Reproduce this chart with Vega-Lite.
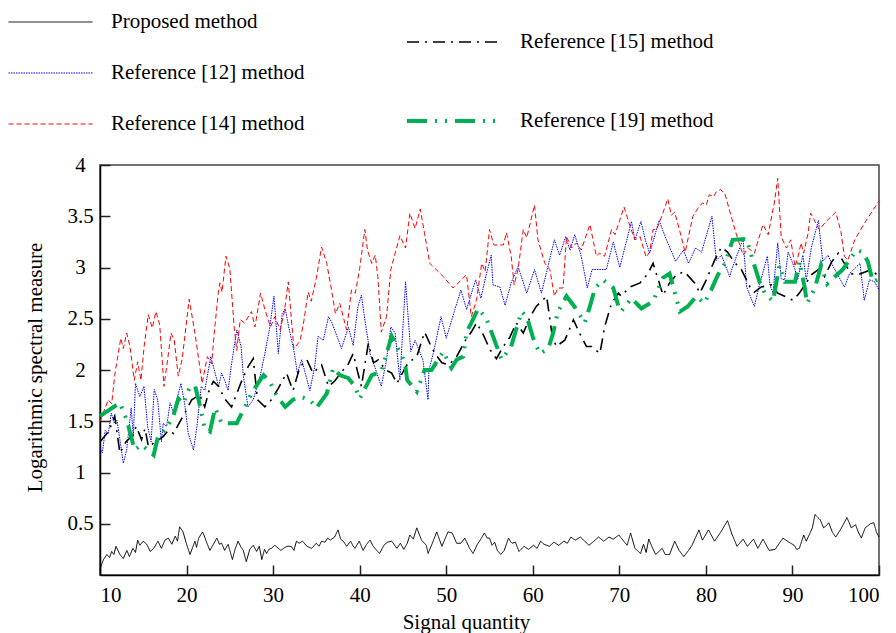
{
"$schema":"https://vega.github.io/schema/vega-lite/v6.json",
"width":779,"height":410,
"autosize":{"type":"none"},
"padding":{"left":100,"top":165,"right":17,"bottom":58},
"background":"white",
"config":{
 "font":"Liberation Serif",
 "view":{"stroke":"#444444","strokeWidth":1.5},
 "axis":{"grid":false,"domainColor":"#000000","domainWidth":1.5,"tickColor":"#222222","tickWidth":1.5,"tickSize":-10,"labelFont":"Liberation Serif","labelFontSize":21,"labelColor":"#000000","titleFont":"Liberation Serif","titleFontSize":21,"titleFontWeight":"normal","titleColor":"#000000"},
 "legend":{"labelFont":"Liberation Serif","labelFontSize":21,"labelColor":"#000000","labelLimit":0,"symbolType":"stroke","padding":0,"title":null}
},
"datasets":{
"left":[
{"method":"Proposed method","x":10.0,"y":0.06},{"method":"Proposed method","x":10.4,"y":0.15},{"method":"Proposed method","x":10.8,"y":0.2},{"method":"Proposed method","x":11.1,"y":0.17},{"method":"Proposed method","x":11.35,"y":0.23},{"method":"Proposed method","x":11.6,"y":0.2},{"method":"Proposed method","x":11.85,"y":0.28},{"method":"Proposed method","x":12.3,"y":0.2},{"method":"Proposed method","x":12.7,"y":0.16},{"method":"Proposed method","x":13.1,"y":0.24},{"method":"Proposed method","x":13.4,"y":0.18},{"method":"Proposed method","x":13.8,"y":0.26},{"method":"Proposed method","x":14.1,"y":0.22},{"method":"Proposed method","x":14.35,"y":0.34},{"method":"Proposed method","x":14.6,"y":0.29},{"method":"Proposed method","x":15.0,"y":0.33},{"method":"Proposed method","x":15.4,"y":0.3},{"method":"Proposed method","x":15.8,"y":0.23},{"method":"Proposed method","x":16.2,"y":0.26},{"method":"Proposed method","x":16.7,"y":0.33},{"method":"Proposed method","x":17.1,"y":0.26},{"method":"Proposed method","x":17.5,"y":0.34},{"method":"Proposed method","x":17.9,"y":0.36},{"method":"Proposed method","x":18.3,"y":0.3},{"method":"Proposed method","x":18.7,"y":0.38},{"method":"Proposed method","x":18.95,"y":0.33},{"method":"Proposed method","x":19.2,"y":0.47},{"method":"Proposed method","x":19.6,"y":0.42},{"method":"Proposed method","x":20.0,"y":0.3},{"method":"Proposed method","x":20.4,"y":0.2},{"method":"Proposed method","x":20.97,"y":0.33},{"method":"Proposed method","x":21.15,"y":0.27},{"method":"Proposed method","x":21.4,"y":0.36},{"method":"Proposed method","x":21.85,"y":0.42},{"method":"Proposed method","x":22.1,"y":0.37},{"method":"Proposed method","x":22.4,"y":0.3},{"method":"Proposed method","x":22.7,"y":0.24},{"method":"Proposed method","x":23.1,"y":0.3},{"method":"Proposed method","x":23.5,"y":0.36},{"method":"Proposed method","x":23.8,"y":0.3},{"method":"Proposed method","x":24.05,"y":0.31},{"method":"Proposed method","x":24.4,"y":0.24},{"method":"Proposed method","x":24.8,"y":0.3},{"method":"Proposed method","x":25.3,"y":0.15},{"method":"Proposed method","x":25.6,"y":0.25},{"method":"Proposed method","x":25.95,"y":0.33},{"method":"Proposed method","x":26.3,"y":0.27},{"method":"Proposed method","x":26.55,"y":0.24},{"method":"Proposed method","x":26.9,"y":0.13},{"method":"Proposed method","x":27.3,"y":0.25},{"method":"Proposed method","x":27.7,"y":0.29},{"method":"Proposed method","x":28.1,"y":0.23},{"method":"Proposed method","x":28.4,"y":0.28},{"method":"Proposed method","x":28.7,"y":0.15},{"method":"Proposed method","x":29.0,"y":0.25},{"method":"Proposed method","x":29.25,"y":0.21},{"method":"Proposed method","x":29.5,"y":0.25},{"method":"Proposed method","x":29.8,"y":0.26},{"method":"Proposed method","x":30.2,"y":0.29},{"method":"Proposed method","x":30.6,"y":0.26},{"method":"Proposed method","x":30.9,"y":0.24},{"method":"Proposed method","x":31.2,"y":0.26},{"method":"Proposed method","x":31.6,"y":0.28},{"method":"Proposed method","x":32.1,"y":0.28},{"method":"Proposed method","x":32.4,"y":0.24},{"method":"Proposed method","x":32.7,"y":0.33},{"method":"Proposed method","x":33.0,"y":0.31},{"method":"Proposed method","x":33.4,"y":0.33},{"method":"Proposed method","x":33.9,"y":0.28},{"method":"Proposed method","x":34.45,"y":0.26},{"method":"Proposed method","x":35.0,"y":0.31},{"method":"Proposed method","x":35.3,"y":0.28},{"method":"Proposed method","x":35.6,"y":0.33},{"method":"Proposed method","x":36.0,"y":0.32},{"method":"Proposed method","x":36.3,"y":0.36},{"method":"Proposed method","x":36.6,"y":0.34},{"method":"Proposed method","x":37.1,"y":0.37},{"method":"Proposed method","x":37.5,"y":0.44},{"method":"Proposed method","x":37.8,"y":0.35},{"method":"Proposed method","x":38.1,"y":0.33},{"method":"Proposed method","x":38.5,"y":0.28},{"method":"Proposed method","x":38.95,"y":0.33},{"method":"Proposed method","x":39.2,"y":0.29},{"method":"Proposed method","x":39.45,"y":0.26},{"method":"Proposed method","x":39.95,"y":0.33},{"method":"Proposed method","x":40.4,"y":0.24},{"method":"Proposed method","x":40.8,"y":0.3},{"method":"Proposed method","x":41.2,"y":0.34},{"method":"Proposed method","x":41.5,"y":0.29},{"method":"Proposed method","x":41.75,"y":0.26},{"method":"Proposed method","x":42.3,"y":0.21},{"method":"Proposed method","x":42.8,"y":0.29},{"method":"Proposed method","x":43.2,"y":0.32},{"method":"Proposed method","x":43.7,"y":0.33},{"method":"Proposed method","x":44.3,"y":0.26},{"method":"Proposed method","x":44.7,"y":0.31},{"method":"Proposed method","x":45.1,"y":0.25},{"method":"Proposed method","x":45.5,"y":0.31},{"method":"Proposed method","x":45.8,"y":0.39},{"method":"Proposed method","x":46.2,"y":0.35},{"method":"Proposed method","x":46.6,"y":0.46},{"method":"Proposed method","x":47.15,"y":0.34},{"method":"Proposed method","x":47.7,"y":0.29},{"method":"Proposed method","x":47.9,"y":0.21},{"method":"Proposed method","x":48.4,"y":0.31},{"method":"Proposed method","x":48.9,"y":0.42},{"method":"Proposed method","x":49.5,"y":0.28},{"method":"Proposed method","x":50.2,"y":0.42},{"method":"Proposed method","x":50.7,"y":0.41},{"method":"Proposed method","x":51.2,"y":0.31},{"method":"Proposed method","x":51.7,"y":0.31},{"method":"Proposed method","x":52.15,"y":0.36},{"method":"Proposed method","x":52.7,"y":0.26},{"method":"Proposed method","x":53.1,"y":0.21},{"method":"Proposed method","x":53.6,"y":0.3},{"method":"Proposed method","x":54.0,"y":0.35},{"method":"Proposed method","x":54.4,"y":0.41},{"method":"Proposed method","x":54.74,"y":0.36},{"method":"Proposed method","x":55.0,"y":0.36},{"method":"Proposed method","x":55.3,"y":0.29},{"method":"Proposed method","x":55.6,"y":0.32},{"method":"Proposed method","x":55.9,"y":0.24},{"method":"Proposed method","x":56.3,"y":0.2},{"method":"Proposed method","x":56.7,"y":0.24},{"method":"Proposed method","x":57.2,"y":0.36},{"method":"Proposed method","x":57.4,"y":0.33},{"method":"Proposed method","x":57.6,"y":0.31},{"method":"Proposed method","x":58.0,"y":0.32},{"method":"Proposed method","x":58.4,"y":0.23},{"method":"Proposed method","x":59.0,"y":0.28},{"method":"Proposed method","x":59.5,"y":0.25},{"method":"Proposed method","x":60.1,"y":0.29},{"method":"Proposed method","x":60.5,"y":0.26},{"method":"Proposed method","x":60.9,"y":0.33},{"method":"Proposed method","x":61.3,"y":0.3},{"method":"Proposed method","x":61.9,"y":0.28},{"method":"Proposed method","x":62.45,"y":0.32},{"method":"Proposed method","x":63.0,"y":0.29},{"method":"Proposed method","x":63.6,"y":0.33},{"method":"Proposed method","x":64.0,"y":0.31},{"method":"Proposed method","x":64.4,"y":0.37},{"method":"Proposed method","x":64.9,"y":0.34},{"method":"Proposed method","x":65.5,"y":0.37},{"method":"Proposed method","x":66.0,"y":0.33},{"method":"Proposed method","x":66.5,"y":0.29},{"method":"Proposed method","x":67.06,"y":0.33},{"method":"Proposed method","x":67.6,"y":0.37},{"method":"Proposed method","x":68.2,"y":0.33},{"method":"Proposed method","x":68.8,"y":0.37},{"method":"Proposed method","x":69.3,"y":0.35},{"method":"Proposed method","x":69.95,"y":0.39},{"method":"Proposed method","x":70.5,"y":0.33},{"method":"Proposed method","x":70.9,"y":0.29},{"method":"Proposed method","x":71.3,"y":0.41},{"method":"Proposed method","x":71.8,"y":0.26},{"method":"Proposed method","x":72.2,"y":0.23},{"method":"Proposed method","x":72.45,"y":0.21},{"method":"Proposed method","x":72.8,"y":0.3},{"method":"Proposed method","x":73.1,"y":0.22},{"method":"Proposed method","x":73.4,"y":0.35},{"method":"Proposed method","x":73.8,"y":0.27},{"method":"Proposed method","x":74.2,"y":0.2},{"method":"Proposed method","x":74.95,"y":0.26},{"method":"Proposed method","x":75.3,"y":0.2},{"method":"Proposed method","x":75.8,"y":0.2},{"method":"Proposed method","x":76.4,"y":0.33},{"method":"Proposed method","x":76.9,"y":0.24},{"method":"Proposed method","x":77.45,"y":0.18},{"method":"Proposed method","x":78.0,"y":0.24},{"method":"Proposed method","x":78.4,"y":0.29},{"method":"Proposed method","x":79.2,"y":0.44},{"method":"Proposed method","x":79.6,"y":0.34},{"method":"Proposed method","x":80.3,"y":0.44},{"method":"Proposed method","x":81.0,"y":0.33},{"method":"Proposed method","x":81.8,"y":0.43},{"method":"Proposed method","x":82.5,"y":0.53},{"method":"Proposed method","x":83.0,"y":0.4},{"method":"Proposed method","x":83.6,"y":0.28},{"method":"Proposed method","x":84.3,"y":0.35},{"method":"Proposed method","x":84.8,"y":0.28},{"method":"Proposed method","x":85.5,"y":0.35},{"method":"Proposed method","x":86.0,"y":0.26},{"method":"Proposed method","x":86.6,"y":0.35},{"method":"Proposed method","x":87.3,"y":0.24},{"method":"Proposed method","x":88.0,"y":0.25},{"method":"Proposed method","x":88.9,"y":0.36},{"method":"Proposed method","x":89.6,"y":0.32},{"method":"Proposed method","x":90.2,"y":0.29},{"method":"Proposed method","x":90.5,"y":0.25},{"method":"Proposed method","x":90.8,"y":0.26},{"method":"Proposed method","x":91.3,"y":0.39},{"method":"Proposed method","x":91.6,"y":0.33},{"method":"Proposed method","x":92.3,"y":0.46},{"method":"Proposed method","x":92.6,"y":0.59},{"method":"Proposed method","x":93.2,"y":0.54},{"method":"Proposed method","x":93.6,"y":0.46},{"method":"Proposed method","x":93.9,"y":0.48},{"method":"Proposed method","x":94.2,"y":0.51},{"method":"Proposed method","x":94.6,"y":0.42},{"method":"Proposed method","x":95.0,"y":0.37},{"method":"Proposed method","x":95.6,"y":0.45},{"method":"Proposed method","x":96.3,"y":0.56},{"method":"Proposed method","x":96.8,"y":0.46},{"method":"Proposed method","x":97.3,"y":0.49},{"method":"Proposed method","x":97.6,"y":0.42},{"method":"Proposed method","x":97.96,"y":0.36},{"method":"Proposed method","x":98.4,"y":0.46},{"method":"Proposed method","x":99.0,"y":0.5},{"method":"Proposed method","x":99.4,"y":0.51},{"method":"Proposed method","x":99.7,"y":0.42},{"method":"Proposed method","x":100.0,"y":0.37},
{"method":"Reference [12] method","x":10.0,"y":1.24},{"method":"Reference [12] method","x":10.27,"y":1.19},{"method":"Reference [12] method","x":10.6,"y":1.41},{"method":"Reference [12] method","x":10.96,"y":1.38},{"method":"Reference [12] method","x":11.3,"y":1.58},{"method":"Reference [12] method","x":11.65,"y":1.48},{"method":"Reference [12] method","x":11.96,"y":1.51},{"method":"Reference [12] method","x":12.3,"y":1.32},{"method":"Reference [12] method","x":12.7,"y":1.09},{"method":"Reference [12] method","x":13.08,"y":1.22},{"method":"Reference [12] method","x":13.6,"y":1.63},{"method":"Reference [12] method","x":13.85,"y":1.35},{"method":"Reference [12] method","x":14.1,"y":1.87},{"method":"Reference [12] method","x":14.6,"y":1.74},{"method":"Reference [12] method","x":15.08,"y":1.84},{"method":"Reference [12] method","x":15.5,"y":1.45},{"method":"Reference [12] method","x":15.9,"y":1.3},{"method":"Reference [12] method","x":16.27,"y":1.81},{"method":"Reference [12] method","x":16.66,"y":1.71},{"method":"Reference [12] method","x":17.1,"y":1.3},{"method":"Reference [12] method","x":17.3,"y":1.48},{"method":"Reference [12] method","x":17.7,"y":1.45},{"method":"Reference [12] method","x":18.1,"y":1.68},{"method":"Reference [12] method","x":18.5,"y":1.58},{"method":"Reference [12] method","x":19.35,"y":1.87},{"method":"Reference [12] method","x":19.8,"y":1.66},{"method":"Reference [12] method","x":20.2,"y":1.38},{"method":"Reference [12] method","x":20.8,"y":1.22},{"method":"Reference [12] method","x":21.2,"y":1.45},{"method":"Reference [12] method","x":21.7,"y":1.84},{"method":"Reference [12] method","x":22.1,"y":1.8},{"method":"Reference [12] method","x":22.8,"y":2.13},{"method":"Reference [12] method","x":23.3,"y":1.97},{"method":"Reference [12] method","x":23.7,"y":1.84},{"method":"Reference [12] method","x":24.05,"y":1.97},{"method":"Reference [12] method","x":24.4,"y":1.9},{"method":"Reference [12] method","x":24.8,"y":1.8},{"method":"Reference [12] method","x":25.2,"y":2.06},{"method":"Reference [12] method","x":25.8,"y":2.39},{"method":"Reference [12] method","x":26.3,"y":2.23},{"method":"Reference [12] method","x":26.55,"y":1.95},{"method":"Reference [12] method","x":27.1,"y":1.64},{"method":"Reference [12] method","x":27.7,"y":1.71},{"method":"Reference [12] method","x":28.5,"y":1.94},{"method":"Reference [12] method","x":29.05,"y":2.16},{"method":"Reference [12] method","x":29.6,"y":2.41},{"method":"Reference [12] method","x":30.1,"y":2.72},{"method":"Reference [12] method","x":30.6,"y":2.16},{"method":"Reference [12] method","x":31.05,"y":2.55},{"method":"Reference [12] method","x":31.4,"y":2.6},{"method":"Reference [12] method","x":31.8,"y":2.42},{"method":"Reference [12] method","x":32.4,"y":2.19},{"method":"Reference [12] method","x":32.8,"y":1.97},{"method":"Reference [12] method","x":33.3,"y":2.1},{"method":"Reference [12] method","x":34.25,"y":1.8},{"method":"Reference [12] method","x":34.8,"y":2.03},{"method":"Reference [12] method","x":35.2,"y":2.33},{"method":"Reference [12] method","x":35.8,"y":2.29},{"method":"Reference [12] method","x":36.4,"y":2.52},{"method":"Reference [12] method","x":36.8,"y":2.46},{"method":"Reference [12] method","x":37.9,"y":2.21},{"method":"Reference [12] method","x":38.7,"y":2.42},{"method":"Reference [12] method","x":39.25,"y":2.24},{"method":"Reference [12] method","x":39.8,"y":2.62},{"method":"Reference [12] method","x":40.2,"y":2.73},{"method":"Reference [12] method","x":40.6,"y":2.49},{"method":"Reference [12] method","x":41.2,"y":2.16},{"method":"Reference [12] method","x":41.75,"y":2.03},{"method":"Reference [12] method","x":42.5,"y":1.84},{"method":"Reference [12] method","x":43.1,"y":2.1},{"method":"Reference [12] method","x":43.6,"y":2.42},{"method":"Reference [12] method","x":44.1,"y":2.36},{"method":"Reference [12] method","x":44.65,"y":1.9},{"method":"Reference [12] method","x":45.3,"y":2.86},{"method":"Reference [12] method","x":45.9,"y":2.18},{"method":"Reference [12] method","x":46.4,"y":2.29},{"method":"Reference [12] method","x":47.3,"y":2.1},{"method":"Reference [12] method","x":47.9,"y":1.71},{"method":"Reference [12] method","x":48.0,"y":2.0},{"method":"Reference [12] method","x":48.5,"y":2.16},{"method":"Reference [12] method","x":49.4,"y":2.52},{"method":"Reference [12] method","x":50.0,"y":2.31},{"method":"Reference [12] method","x":51.0,"y":2.59},{"method":"Reference [12] method","x":51.7,"y":2.78},{"method":"Reference [12] method","x":52.35,"y":2.59},{"method":"Reference [12] method","x":53.4,"y":2.88},{"method":"Reference [12] method","x":54.0,"y":2.7},{"method":"Reference [12] method","x":54.65,"y":2.94},{"method":"Reference [12] method","x":55.2,"y":3.12},{"method":"Reference [12] method","x":55.4,"y":2.83},{"method":"Reference [12] method","x":56.2,"y":2.81},{"method":"Reference [12] method","x":56.8,"y":2.63},{"method":"Reference [12] method","x":57.5,"y":2.85},{"method":"Reference [12] method","x":58.3,"y":3.01},{"method":"Reference [12] method","x":59.3,"y":2.75},{"method":"Reference [12] method","x":60.2,"y":2.98},{"method":"Reference [12] method","x":61.0,"y":2.75},{"method":"Reference [12] method","x":62.5,"y":3.27},{"method":"Reference [12] method","x":63.1,"y":3.12},{"method":"Reference [12] method","x":63.8,"y":3.3},{"method":"Reference [12] method","x":64.3,"y":3.17},{"method":"Reference [12] method","x":64.85,"y":3.32},{"method":"Reference [12] method","x":65.6,"y":3.11},{"method":"Reference [12] method","x":66.3,"y":2.8},{"method":"Reference [12] method","x":66.85,"y":2.98},{"method":"Reference [12] method","x":68.5,"y":2.98},{"method":"Reference [12] method","x":69.3,"y":3.25},{"method":"Reference [12] method","x":70.05,"y":3.0},{"method":"Reference [12] method","x":71.4,"y":3.45},{"method":"Reference [12] method","x":71.8,"y":3.27},{"method":"Reference [12] method","x":72.5,"y":3.45},{"method":"Reference [12] method","x":73.0,"y":3.27},{"method":"Reference [12] method","x":73.5,"y":3.14},{"method":"Reference [12] method","x":74.6,"y":3.46},{"method":"Reference [12] method","x":75.3,"y":3.3},{"method":"Reference [12] method","x":76.5,"y":3.06},{"method":"Reference [12] method","x":77.4,"y":3.17},{"method":"Reference [12] method","x":78.0,"y":3.04},{"method":"Reference [12] method","x":78.8,"y":3.19},{"method":"Reference [12] method","x":79.5,"y":3.15},{"method":"Reference [12] method","x":80.7,"y":3.5},{"method":"Reference [12] method","x":81.2,"y":3.07},{"method":"Reference [12] method","x":81.8,"y":3.12},{"method":"Reference [12] method","x":82.75,"y":2.91},{"method":"Reference [12] method","x":83.1,"y":3.01},{"method":"Reference [12] method","x":84.3,"y":3.28},{"method":"Reference [12] method","x":84.7,"y":2.81},{"method":"Reference [12] method","x":85.6,"y":2.62},{"method":"Reference [12] method","x":86.1,"y":2.8},{"method":"Reference [12] method","x":87.1,"y":3.11},{"method":"Reference [12] method","x":87.4,"y":2.83},{"method":"Reference [12] method","x":87.75,"y":2.75},{"method":"Reference [12] method","x":88.3,"y":3.24},{"method":"Reference [12] method","x":88.7,"y":2.89},{"method":"Reference [12] method","x":89.1,"y":2.88},{"method":"Reference [12] method","x":89.5,"y":3.15},{"method":"Reference [12] method","x":89.9,"y":3.07},{"method":"Reference [12] method","x":90.3,"y":2.98},{"method":"Reference [12] method","x":90.6,"y":2.88},{"method":"Reference [12] method","x":91.2,"y":3.12},{"method":"Reference [12] method","x":91.6,"y":2.88},{"method":"Reference [12] method","x":92.2,"y":3.2},{"method":"Reference [12] method","x":93.0,"y":3.46},{"method":"Reference [12] method","x":93.5,"y":3.06},{"method":"Reference [12] method","x":94.1,"y":3.12},{"method":"Reference [12] method","x":94.7,"y":3.01},{"method":"Reference [12] method","x":96.0,"y":2.81},{"method":"Reference [12] method","x":96.6,"y":2.94},{"method":"Reference [12] method","x":97.8,"y":3.04},{"method":"Reference [12] method","x":98.3,"y":2.68},{"method":"Reference [12] method","x":98.9,"y":2.88},{"method":"Reference [12] method","x":99.5,"y":2.86},{"method":"Reference [12] method","x":100.0,"y":2.78},
{"method":"Reference [14] method","x":10.0,"y":1.5},{"method":"Reference [14] method","x":10.6,"y":1.63},{"method":"Reference [14] method","x":10.96,"y":1.71},{"method":"Reference [14] method","x":11.35,"y":1.67},{"method":"Reference [14] method","x":11.7,"y":1.95},{"method":"Reference [14] method","x":12.4,"y":2.31},{"method":"Reference [14] method","x":12.7,"y":2.21},{"method":"Reference [14] method","x":13.08,"y":2.36},{"method":"Reference [14] method","x":13.46,"y":2.23},{"method":"Reference [14] method","x":13.96,"y":1.9},{"method":"Reference [14] method","x":14.35,"y":2.08},{"method":"Reference [14] method","x":14.73,"y":1.9},{"method":"Reference [14] method","x":15.1,"y":2.23},{"method":"Reference [14] method","x":15.58,"y":2.54},{"method":"Reference [14] method","x":16.04,"y":2.41},{"method":"Reference [14] method","x":16.46,"y":2.57},{"method":"Reference [14] method","x":16.9,"y":2.44},{"method":"Reference [14] method","x":17.39,"y":1.84},{"method":"Reference [14] method","x":17.81,"y":2.1},{"method":"Reference [14] method","x":18.2,"y":2.36},{"method":"Reference [14] method","x":18.58,"y":2.29},{"method":"Reference [14] method","x":19.04,"y":1.94},{"method":"Reference [14] method","x":19.5,"y":2.11},{"method":"Reference [14] method","x":20.3,"y":2.69},{"method":"Reference [14] method","x":20.97,"y":2.36},{"method":"Reference [14] method","x":21.8,"y":1.87},{"method":"Reference [14] method","x":22.4,"y":2.13},{"method":"Reference [14] method","x":22.9,"y":2.06},{"method":"Reference [14] method","x":23.2,"y":2.36},{"method":"Reference [14] method","x":23.66,"y":2.75},{"method":"Reference [14] method","x":23.85,"y":2.85},{"method":"Reference [14] method","x":24.1,"y":2.76},{"method":"Reference [14] method","x":24.55,"y":3.11},{"method":"Reference [14] method","x":25.0,"y":2.99},{"method":"Reference [14] method","x":25.5,"y":2.42},{"method":"Reference [14] method","x":25.8,"y":2.19},{"method":"Reference [14] method","x":26.2,"y":2.49},{"method":"Reference [14] method","x":26.7,"y":2.46},{"method":"Reference [14] method","x":27.5,"y":2.57},{"method":"Reference [14] method","x":27.9,"y":2.42},{"method":"Reference [14] method","x":28.55,"y":2.75},{"method":"Reference [14] method","x":29.05,"y":2.59},{"method":"Reference [14] method","x":29.7,"y":2.42},{"method":"Reference [14] method","x":30.2,"y":2.52},{"method":"Reference [14] method","x":30.8,"y":2.39},{"method":"Reference [14] method","x":31.3,"y":2.57},{"method":"Reference [14] method","x":31.75,"y":2.86},{"method":"Reference [14] method","x":32.4,"y":2.21},{"method":"Reference [14] method","x":33.1,"y":2.28},{"method":"Reference [14] method","x":33.5,"y":2.45},{"method":"Reference [14] method","x":34.05,"y":2.76},{"method":"Reference [14] method","x":34.4,"y":2.67},{"method":"Reference [14] method","x":35.0,"y":2.9},{"method":"Reference [14] method","x":35.6,"y":3.2},{"method":"Reference [14] method","x":36.2,"y":3.04},{"method":"Reference [14] method","x":36.75,"y":2.78},{"method":"Reference [14] method","x":37.2,"y":2.55},{"method":"Reference [14] method","x":37.7,"y":2.65},{"method":"Reference [14] method","x":38.1,"y":2.52},{"method":"Reference [14] method","x":38.5,"y":2.39},{"method":"Reference [14] method","x":39.05,"y":2.78},{"method":"Reference [14] method","x":39.5,"y":2.75},{"method":"Reference [14] method","x":40.0,"y":2.99},{"method":"Reference [14] method","x":40.6,"y":3.37},{"method":"Reference [14] method","x":40.9,"y":3.17},{"method":"Reference [14] method","x":41.4,"y":3.04},{"method":"Reference [14] method","x":41.8,"y":3.12},{"method":"Reference [14] method","x":42.1,"y":2.91},{"method":"Reference [14] method","x":42.5,"y":2.37},{"method":"Reference [14] method","x":43.1,"y":2.52},{"method":"Reference [14] method","x":43.6,"y":2.98},{"method":"Reference [14] method","x":44.1,"y":3.14},{"method":"Reference [14] method","x":44.65,"y":3.31},{"method":"Reference [14] method","x":45.3,"y":3.19},{"method":"Reference [14] method","x":45.8,"y":3.53},{"method":"Reference [14] method","x":46.4,"y":3.38},{"method":"Reference [14] method","x":47.0,"y":3.57},{"method":"Reference [14] method","x":47.5,"y":3.33},{"method":"Reference [14] method","x":48.1,"y":3.04},{"method":"Reference [14] method","x":49.45,"y":2.93},{"method":"Reference [14] method","x":50.8,"y":2.8},{"method":"Reference [14] method","x":52.35,"y":2.93},{"method":"Reference [14] method","x":52.9,"y":2.52},{"method":"Reference [14] method","x":53.5,"y":2.68},{"method":"Reference [14] method","x":54.1,"y":3.04},{"method":"Reference [14] method","x":54.5,"y":2.96},{"method":"Reference [14] method","x":55.0,"y":3.37},{"method":"Reference [14] method","x":55.5,"y":3.22},{"method":"Reference [14] method","x":56.6,"y":3.22},{"method":"Reference [14] method","x":56.96,"y":3.34},{"method":"Reference [14] method","x":57.5,"y":3.11},{"method":"Reference [14] method","x":57.85,"y":2.83},{"method":"Reference [14] method","x":58.3,"y":2.98},{"method":"Reference [14] method","x":58.9,"y":3.37},{"method":"Reference [14] method","x":59.3,"y":3.29},{"method":"Reference [14] method","x":60.2,"y":3.61},{"method":"Reference [14] method","x":60.6,"y":3.27},{"method":"Reference [14] method","x":61.4,"y":3.04},{"method":"Reference [14] method","x":61.97,"y":2.98},{"method":"Reference [14] method","x":62.5,"y":2.72},{"method":"Reference [14] method","x":62.9,"y":2.8},{"method":"Reference [14] method","x":63.5,"y":2.8},{"method":"Reference [14] method","x":63.9,"y":3.3},{"method":"Reference [14] method","x":64.5,"y":3.19},{"method":"Reference [14] method","x":65.05,"y":3.24},{"method":"Reference [14] method","x":65.6,"y":3.17},{"method":"Reference [14] method","x":66.6,"y":3.42},{"method":"Reference [14] method","x":67.35,"y":3.11},{"method":"Reference [14] method","x":67.7,"y":3.14},{"method":"Reference [14] method","x":68.3,"y":3.11},{"method":"Reference [14] method","x":69.1,"y":3.37},{"method":"Reference [14] method","x":69.5,"y":3.32},{"method":"Reference [14] method","x":70.55,"y":3.59},{"method":"Reference [14] method","x":71.2,"y":3.41},{"method":"Reference [14] method","x":71.8,"y":3.27},{"method":"Reference [14] method","x":72.4,"y":3.3},{"method":"Reference [14] method","x":73.1,"y":3.1},{"method":"Reference [14] method","x":73.5,"y":3.15},{"method":"Reference [14] method","x":73.9,"y":3.37},{"method":"Reference [14] method","x":74.3,"y":3.37},{"method":"Reference [14] method","x":74.9,"y":3.5},{"method":"Reference [14] method","x":75.6,"y":3.67},{"method":"Reference [14] method","x":76.0,"y":3.51},{"method":"Reference [14] method","x":76.4,"y":3.54},{"method":"Reference [14] method","x":77.0,"y":3.35},{"method":"Reference [14] method","x":77.6,"y":3.15},{"method":"Reference [14] method","x":78.5,"y":3.5},{"method":"Reference [14] method","x":79.1,"y":3.58},{"method":"Reference [14] method","x":79.6,"y":3.63},{"method":"Reference [14] method","x":80.05,"y":3.61},{"method":"Reference [14] method","x":80.4,"y":3.71},{"method":"Reference [14] method","x":80.9,"y":3.69},{"method":"Reference [14] method","x":81.2,"y":3.74},{"method":"Reference [14] method","x":81.7,"y":3.76},{"method":"Reference [14] method","x":82.2,"y":3.72},{"method":"Reference [14] method","x":82.75,"y":3.55},{"method":"Reference [14] method","x":83.5,"y":3.33},{"method":"Reference [14] method","x":84.3,"y":3.12},{"method":"Reference [14] method","x":84.9,"y":3.19},{"method":"Reference [14] method","x":85.6,"y":3.14},{"method":"Reference [14] method","x":86.6,"y":3.42},{"method":"Reference [14] method","x":87.2,"y":3.32},{"method":"Reference [14] method","x":87.9,"y":3.63},{"method":"Reference [14] method","x":88.3,"y":3.87},{"method":"Reference [14] method","x":88.7,"y":3.3},{"method":"Reference [14] method","x":89.3,"y":3.19},{"method":"Reference [14] method","x":89.8,"y":3.27},{"method":"Reference [14] method","x":90.3,"y":3.01},{"method":"Reference [14] method","x":90.6,"y":3.09},{"method":"Reference [14] method","x":91.0,"y":3.24},{"method":"Reference [14] method","x":91.3,"y":3.14},{"method":"Reference [14] method","x":91.8,"y":3.33},{"method":"Reference [14] method","x":92.1,"y":3.53},{"method":"Reference [14] method","x":92.6,"y":3.45},{"method":"Reference [14] method","x":93.1,"y":3.37},{"method":"Reference [14] method","x":93.9,"y":3.45},{"method":"Reference [14] method","x":95.0,"y":3.54},{"method":"Reference [14] method","x":95.6,"y":3.35},{"method":"Reference [14] method","x":96.0,"y":3.11},{"method":"Reference [14] method","x":96.4,"y":3.07},{"method":"Reference [14] method","x":97.2,"y":3.27},{"method":"Reference [14] method","x":98.3,"y":3.43},{"method":"Reference [14] method","x":100.0,"y":3.65}
],
"right":[
{"method":"Reference [15] method","x":10.0,"y":1.3},{"method":"Reference [15] method","x":11.0,"y":1.4},{"method":"Reference [15] method","x":11.7,"y":1.55},{"method":"Reference [15] method","x":12.3,"y":1.19},{"method":"Reference [15] method","x":13.0,"y":1.3},{"method":"Reference [15] method","x":13.65,"y":1.35},{"method":"Reference [15] method","x":14.2,"y":1.45},{"method":"Reference [15] method","x":14.8,"y":1.32},{"method":"Reference [15] method","x":15.2,"y":1.43},{"method":"Reference [15] method","x":15.6,"y":1.25},{"method":"Reference [15] method","x":16.4,"y":1.3},{"method":"Reference [15] method","x":17.3,"y":1.35},{"method":"Reference [15] method","x":17.9,"y":1.41},{"method":"Reference [15] method","x":18.5,"y":1.38},{"method":"Reference [15] method","x":19.0,"y":1.46},{"method":"Reference [15] method","x":19.8,"y":1.58},{"method":"Reference [15] method","x":20.6,"y":1.71},{"method":"Reference [15] method","x":21.5,"y":1.76},{"method":"Reference [15] method","x":22.1,"y":1.64},{"method":"Reference [15] method","x":22.6,"y":1.8},{"method":"Reference [15] method","x":23.1,"y":1.89},{"method":"Reference [15] method","x":23.7,"y":1.84},{"method":"Reference [15] method","x":24.4,"y":1.72},{"method":"Reference [15] method","x":25.2,"y":1.64},{"method":"Reference [15] method","x":26.4,"y":1.9},{"method":"Reference [15] method","x":27.1,"y":2.03},{"method":"Reference [15] method","x":27.7,"y":2.11},{"method":"Reference [15] method","x":28.2,"y":1.71},{"method":"Reference [15] method","x":29.05,"y":1.64},{"method":"Reference [15] method","x":29.8,"y":1.71},{"method":"Reference [15] method","x":30.6,"y":1.82},{"method":"Reference [15] method","x":31.55,"y":1.97},{"method":"Reference [15] method","x":32.3,"y":1.8},{"method":"Reference [15] method","x":33.1,"y":2.03},{"method":"Reference [15] method","x":33.9,"y":2.1},{"method":"Reference [15] method","x":34.6,"y":1.97},{"method":"Reference [15] method","x":35.6,"y":2.05},{"method":"Reference [15] method","x":36.4,"y":1.84},{"method":"Reference [15] method","x":37.1,"y":1.89},{"method":"Reference [15] method","x":37.9,"y":1.98},{"method":"Reference [15] method","x":38.7,"y":2.06},{"method":"Reference [15] method","x":39.25,"y":2.16},{"method":"Reference [15] method","x":39.8,"y":1.97},{"method":"Reference [15] method","x":40.2,"y":1.84},{"method":"Reference [15] method","x":41.0,"y":2.26},{"method":"Reference [15] method","x":41.6,"y":2.07},{"method":"Reference [15] method","x":42.15,"y":2.1},{"method":"Reference [15] method","x":43.0,"y":2.0},{"method":"Reference [15] method","x":43.7,"y":1.97},{"method":"Reference [15] method","x":44.3,"y":1.87},{"method":"Reference [15] method","x":45.0,"y":1.98},{"method":"Reference [15] method","x":45.6,"y":2.07},{"method":"Reference [15] method","x":46.6,"y":2.13},{"method":"Reference [15] method","x":47.5,"y":2.37},{"method":"Reference [15] method","x":48.1,"y":2.26},{"method":"Reference [15] method","x":48.7,"y":2.16},{"method":"Reference [15] method","x":49.5,"y":2.07},{"method":"Reference [15] method","x":50.3,"y":2.05},{"method":"Reference [15] method","x":51.2,"y":2.13},{"method":"Reference [15] method","x":52.15,"y":2.28},{"method":"Reference [15] method","x":52.9,"y":2.37},{"method":"Reference [15] method","x":53.5,"y":2.46},{"method":"Reference [15] method","x":54.3,"y":2.34},{"method":"Reference [15] method","x":55.05,"y":2.2},{"method":"Reference [15] method","x":55.8,"y":2.11},{"method":"Reference [15] method","x":56.6,"y":2.23},{"method":"Reference [15] method","x":57.35,"y":2.32},{"method":"Reference [15] method","x":58.1,"y":2.46},{"method":"Reference [15] method","x":58.9,"y":2.36},{"method":"Reference [15] method","x":59.7,"y":2.52},{"method":"Reference [15] method","x":60.4,"y":2.62},{"method":"Reference [15] method","x":61.6,"y":2.72},{"method":"Reference [15] method","x":62.2,"y":2.36},{"method":"Reference [15] method","x":62.7,"y":2.23},{"method":"Reference [15] method","x":63.7,"y":2.29},{"method":"Reference [15] method","x":64.7,"y":2.49},{"method":"Reference [15] method","x":65.4,"y":2.36},{"method":"Reference [15] method","x":66.2,"y":2.23},{"method":"Reference [15] method","x":66.8,"y":2.23},{"method":"Reference [15] method","x":67.75,"y":2.16},{"method":"Reference [15] method","x":68.3,"y":2.42},{"method":"Reference [15] method","x":69.1,"y":2.65},{"method":"Reference [15] method","x":69.9,"y":2.75},{"method":"Reference [15] method","x":70.2,"y":2.72},{"method":"Reference [15] method","x":71.2,"y":2.81},{"method":"Reference [15] method","x":72.4,"y":2.85},{"method":"Reference [15] method","x":73.3,"y":2.94},{"method":"Reference [15] method","x":73.9,"y":3.04},{"method":"Reference [15] method","x":74.5,"y":2.88},{"method":"Reference [15] method","x":75.05,"y":2.73},{"method":"Reference [15] method","x":75.8,"y":2.85},{"method":"Reference [15] method","x":76.6,"y":2.93},{"method":"Reference [15] method","x":77.5,"y":2.96},{"method":"Reference [15] method","x":78.7,"y":2.85},{"method":"Reference [15] method","x":79.3,"y":2.75},{"method":"Reference [15] method","x":80.05,"y":2.88},{"method":"Reference [15] method","x":81.0,"y":3.07},{"method":"Reference [15] method","x":81.8,"y":3.2},{"method":"Reference [15] method","x":82.5,"y":3.15},{"method":"Reference [15] method","x":83.3,"y":3.05},{"method":"Reference [15] method","x":84.1,"y":2.98},{"method":"Reference [15] method","x":85.1,"y":2.81},{"method":"Reference [15] method","x":85.6,"y":2.76},{"method":"Reference [15] method","x":86.4,"y":2.81},{"method":"Reference [15] method","x":87.56,"y":2.83},{"method":"Reference [15] method","x":88.3,"y":2.75},{"method":"Reference [15] method","x":89.1,"y":2.72},{"method":"Reference [15] method","x":90.06,"y":2.68},{"method":"Reference [15] method","x":90.8,"y":2.75},{"method":"Reference [15] method","x":92.2,"y":2.93},{"method":"Reference [15] method","x":93.0,"y":2.98},{"method":"Reference [15] method","x":93.7,"y":2.91},{"method":"Reference [15] method","x":94.5,"y":3.05},{"method":"Reference [15] method","x":95.3,"y":3.14},{"method":"Reference [15] method","x":96.0,"y":3.04},{"method":"Reference [15] method","x":96.8,"y":2.94},{"method":"Reference [15] method","x":97.6,"y":2.93},{"method":"Reference [15] method","x":99.1,"y":2.98},{"method":"Reference [15] method","x":100.0,"y":2.91},
{"method":"Reference [19] method","x":10.0,"y":1.55},{"method":"Reference [19] method","x":12.3,"y":1.68},{"method":"Reference [19] method","x":13.1,"y":1.51},{"method":"Reference [19] method","x":14.0,"y":1.22},{"method":"Reference [19] method","x":14.8,"y":1.27},{"method":"Reference [19] method","x":16.2,"y":1.17},{"method":"Reference [19] method","x":16.7,"y":1.35},{"method":"Reference [19] method","x":17.7,"y":1.43},{"method":"Reference [19] method","x":18.5,"y":1.56},{"method":"Reference [19] method","x":19.05,"y":1.72},{"method":"Reference [19] method","x":19.6,"y":1.67},{"method":"Reference [19] method","x":20.4,"y":1.84},{"method":"Reference [19] method","x":21.0,"y":1.84},{"method":"Reference [19] method","x":21.5,"y":1.67},{"method":"Reference [19] method","x":22.1,"y":1.43},{"method":"Reference [19] method","x":22.7,"y":1.4},{"method":"Reference [19] method","x":23.3,"y":1.63},{"method":"Reference [19] method","x":24.05,"y":1.48},{"method":"Reference [19] method","x":24.8,"y":1.48},{"method":"Reference [19] method","x":25.8,"y":1.48},{"method":"Reference [19] method","x":26.55,"y":1.61},{"method":"Reference [19] method","x":27.5,"y":1.77},{"method":"Reference [19] method","x":28.1,"y":1.85},{"method":"Reference [19] method","x":28.9,"y":1.95},{"method":"Reference [19] method","x":29.6,"y":1.89},{"method":"Reference [19] method","x":30.4,"y":1.75},{"method":"Reference [19] method","x":31.4,"y":1.64},{"method":"Reference [19] method","x":32.3,"y":1.71},{"method":"Reference [19] method","x":33.1,"y":1.74},{"method":"Reference [19] method","x":34.25,"y":1.71},{"method":"Reference [19] method","x":35.0,"y":1.63},{"method":"Reference [19] method","x":36.2,"y":1.77},{"method":"Reference [19] method","x":36.95,"y":2.02},{"method":"Reference [19] method","x":37.7,"y":1.95},{"method":"Reference [19] method","x":38.7,"y":1.92},{"method":"Reference [19] method","x":39.45,"y":1.84},{"method":"Reference [19] method","x":40.0,"y":1.72},{"method":"Reference [19] method","x":41.4,"y":1.95},{"method":"Reference [19] method","x":42.5,"y":1.98},{"method":"Reference [19] method","x":43.1,"y":2.16},{"method":"Reference [19] method","x":43.7,"y":2.33},{"method":"Reference [19] method","x":45.2,"y":2.08},{"method":"Reference [19] method","x":45.5,"y":1.9},{"method":"Reference [19] method","x":46.6,"y":1.79},{"method":"Reference [19] method","x":47.5,"y":2.0},{"method":"Reference [19] method","x":48.3,"y":2.0},{"method":"Reference [19] method","x":49.65,"y":2.18},{"method":"Reference [19] method","x":50.6,"y":2.02},{"method":"Reference [19] method","x":51.2,"y":2.1},{"method":"Reference [19] method","x":51.95,"y":2.13},{"method":"Reference [19] method","x":52.35,"y":2.37},{"method":"Reference [19] method","x":52.9,"y":2.46},{"method":"Reference [19] method","x":53.7,"y":2.6},{"method":"Reference [19] method","x":54.65,"y":2.5},{"method":"Reference [19] method","x":55.4,"y":2.33},{"method":"Reference [19] method","x":56.4,"y":2.1},{"method":"Reference [19] method","x":57.5,"y":2.23},{"method":"Reference [19] method","x":58.7,"y":2.57},{"method":"Reference [19] method","x":59.3,"y":2.52},{"method":"Reference [19] method","x":60.05,"y":2.31},{"method":"Reference [19] method","x":60.8,"y":2.16},{"method":"Reference [19] method","x":61.8,"y":2.21},{"method":"Reference [19] method","x":62.35,"y":2.36},{"method":"Reference [19] method","x":62.9,"y":2.57},{"method":"Reference [19] method","x":63.9,"y":2.72},{"method":"Reference [19] method","x":64.8,"y":2.62},{"method":"Reference [19] method","x":66.0,"y":2.46},{"method":"Reference [19] method","x":66.6,"y":2.62},{"method":"Reference [19] method","x":67.2,"y":2.8},{"method":"Reference [19] method","x":68.1,"y":2.88},{"method":"Reference [19] method","x":69.3,"y":2.8},{"method":"Reference [19] method","x":69.9,"y":2.62},{"method":"Reference [19] method","x":70.2,"y":2.57},{"method":"Reference [19] method","x":71.4,"y":2.7},{"method":"Reference [19] method","x":72.55,"y":2.6},{"method":"Reference [19] method","x":73.9,"y":2.67},{"method":"Reference [19] method","x":75.05,"y":2.9},{"method":"Reference [19] method","x":75.8,"y":2.94},{"method":"Reference [19] method","x":76.4,"y":2.76},{"method":"Reference [19] method","x":77.0,"y":2.57},{"method":"Reference [19] method","x":77.9,"y":2.62},{"method":"Reference [19] method","x":78.9,"y":2.72},{"method":"Reference [19] method","x":79.8,"y":2.65},{"method":"Reference [19] method","x":80.6,"y":2.78},{"method":"Reference [19] method","x":81.4,"y":2.93},{"method":"Reference [19] method","x":82.2,"y":3.04},{"method":"Reference [19] method","x":83.1,"y":3.27},{"method":"Reference [19] method","x":84.7,"y":3.28},{"method":"Reference [19] method","x":85.6,"y":3.02},{"method":"Reference [19] method","x":86.2,"y":2.86},{"method":"Reference [19] method","x":86.8,"y":2.75},{"method":"Reference [19] method","x":87.75,"y":2.67},{"method":"Reference [19] method","x":88.5,"y":3.02},{"method":"Reference [19] method","x":89.1,"y":2.86},{"method":"Reference [19] method","x":90.3,"y":2.86},{"method":"Reference [19] method","x":90.8,"y":3.06},{"method":"Reference [19] method","x":91.4,"y":2.81},{"method":"Reference [19] method","x":91.7,"y":2.65},{"method":"Reference [19] method","x":92.6,"y":2.8},{"method":"Reference [19] method","x":93.3,"y":3.02},{"method":"Reference [19] method","x":94.0,"y":2.84},{"method":"Reference [19] method","x":94.9,"y":2.91},{"method":"Reference [19] method","x":95.8,"y":2.98},{"method":"Reference [19] method","x":97.4,"y":3.17},{"method":"Reference [19] method","x":98.1,"y":3.15},{"method":"Reference [19] method","x":98.7,"y":3.06},{"method":"Reference [19] method","x":99.3,"y":2.86},{"method":"Reference [19] method","x":100.0,"y":2.89}
]
},
"layer":[
{"data":{"name":"left"},
 "mark":{"type":"line","strokeWidth":1},
 "encoding":{
  "x":{"field":"x","type":"quantitative","scale":{"domain":[10,100],"nice":false,"zero":false},"axis":{"values":[10,20,30,40,50,60,70,80,90,100],"title":"Signal quantity","labelPadding":19,"labelBaseline":"top","titleX":366,"titleY":53,"titleBaseline":"alphabetic","titleAlign":"center","titleAnchor":null}},
  "y":{"field":"y","type":"quantitative","scale":{"domain":[0,4],"nice":false},"axis":{"values":[0.5,1,1.5,2,2.5,3,3.5,4],"format":"~g","title":"Logarithmic spectral measure","labelAlign":"center","labelPadding":30,"titleX":-65,"titleY":202,"titleAngle":-90,"titleBaseline":"middle","titleAlign":"center","titleAnchor":null}},
  "color":{"field":"method","type":"nominal","scale":{"domain":["Proposed method","Reference [12] method","Reference [14] method"],"range":["#000000","#0000ff","#ff0000"]},
   "legend":{"orient":"none","legendX":-92,"legendY":-153,"symbolSize":7056,"symbolStrokeWidth":1,"labelOffset":18,"labelLimit":0,"clipHeight":20,"rowPadding":30,"direction":"vertical","title":null}},
  "strokeDash":{"field":"method","type":"nominal","scale":{"domain":["Proposed method","Reference [12] method","Reference [14] method"],"range":[[1,0],[1.5,1],[5,3]]},
   "legend":{"orient":"none","legendX":-92,"legendY":-153,"symbolSize":7056,"symbolStrokeWidth":1,"labelOffset":18,"labelLimit":0,"clipHeight":20,"rowPadding":30,"direction":"vertical","title":null}}
 }},
{"data":{"name":"right"},
 "mark":{"type":"line"},
 "encoding":{
  "x":{"field":"x","type":"quantitative"},
  "y":{"field":"y","type":"quantitative"},
  "color":{"field":"method","type":"nominal","scale":{"domain":["Reference [15] method","Reference [19] method"],"range":["#000000","#00b050"]},
   "legend":{"orient":"none","legendX":305,"legendY":-133,"symbolSize":8100,"labelOffset":21,"labelLimit":0,"clipHeight":20,"rowPadding":58,"direction":"vertical","title":null}},
  "strokeDash":{"field":"method","type":"nominal","scale":{"domain":["Reference [15] method","Reference [19] method"],"range":[[12,6,2,6],[20,8,2,8,2,8]]},
   "legend":{"orient":"none","legendX":305,"legendY":-133,"symbolSize":8100,"labelOffset":21,"labelLimit":0,"clipHeight":20,"rowPadding":58,"direction":"vertical","title":null}},
  "strokeWidth":{"field":"method","type":"nominal","scale":{"domain":["Reference [15] method","Reference [19] method"],"range":[1.6,4]},
   "legend":{"orient":"none","legendX":305,"legendY":-133,"symbolSize":8100,"labelOffset":21,"labelLimit":0,"clipHeight":20,"rowPadding":58,"direction":"vertical","title":null}}
 }}
],
"resolve":{"scale":{"color":"independent","strokeDash":"independent","strokeWidth":"independent"},"legend":{"color":"independent","strokeDash":"independent","strokeWidth":"independent"}}
}
